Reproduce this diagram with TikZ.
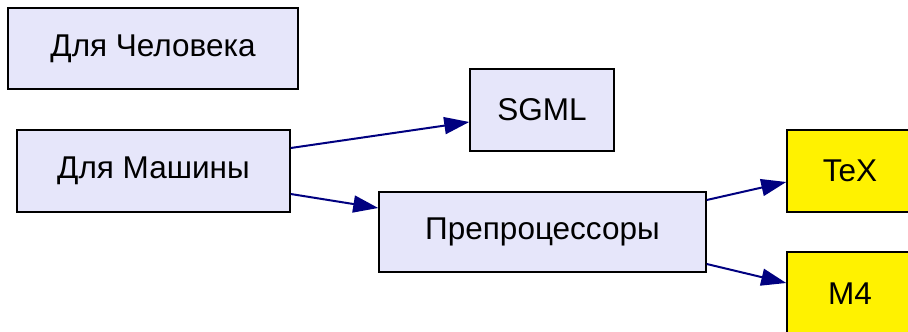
\documentclass[tikz,border=0pt]{standalone}
\usepackage{fontspec}
\setmainfont{Liberation Sans}
\usetikzlibrary{arrows.meta}
\definecolor{boxfill}{HTML}{E6E6FA}
\definecolor{edgecol}{HTML}{000080}
\begin{document}
\begin{tikzpicture}[x=1pt,y=-1pt,
  box/.style={draw=black, line width=1.5pt, fill=boxfill, font=\fontsize{31.5}{36}\selectfont, inner sep=0pt, anchor=center},
  yel/.style={box, fill=yellow},
  edge/.style={draw=edgecol, line width=2pt, -{Triangle[length=25pt,width=17pt]}}]
\useasboundingbox (0,0) rectangle (908,332);
\clip (0,0) rectangle (908,332);
\node[box, minimum width=290pt, minimum height=81pt] (dch) at (153,48.5) {Для Человека};
\node[box, minimum width=273pt, minimum height=82pt] (dm) at (153.5,171) {Для Машины};
\node[box, minimum width=144pt, minimum height=82pt] (sgml) at (542,110) {SGML};
\node[box, minimum width=327pt, minimum height=80pt] (pre) at (542.5,232) {Препроцессоры};
\node[yel, minimum width=126pt, minimum height=82pt] (tex) at (850,171) {TeX};
\node[yel, minimum width=126pt, minimum height=84pt] (m4) at (850,294) {M4};
\draw[edge] ([yshift=23pt]dm.east) -- ([yshift=-12pt]sgml.west);
\draw[edge] ([yshift=-23pt]dm.east) -- ([yshift=24pt]pre.west);
\draw[edge] ([yshift=32pt]pre.east) -- ([yshift=-11pt]tex.west);
\draw[edge] ([yshift=-32pt]pre.east) -- ([yshift=11pt]m4.west);
\end{tikzpicture}
\end{document}
